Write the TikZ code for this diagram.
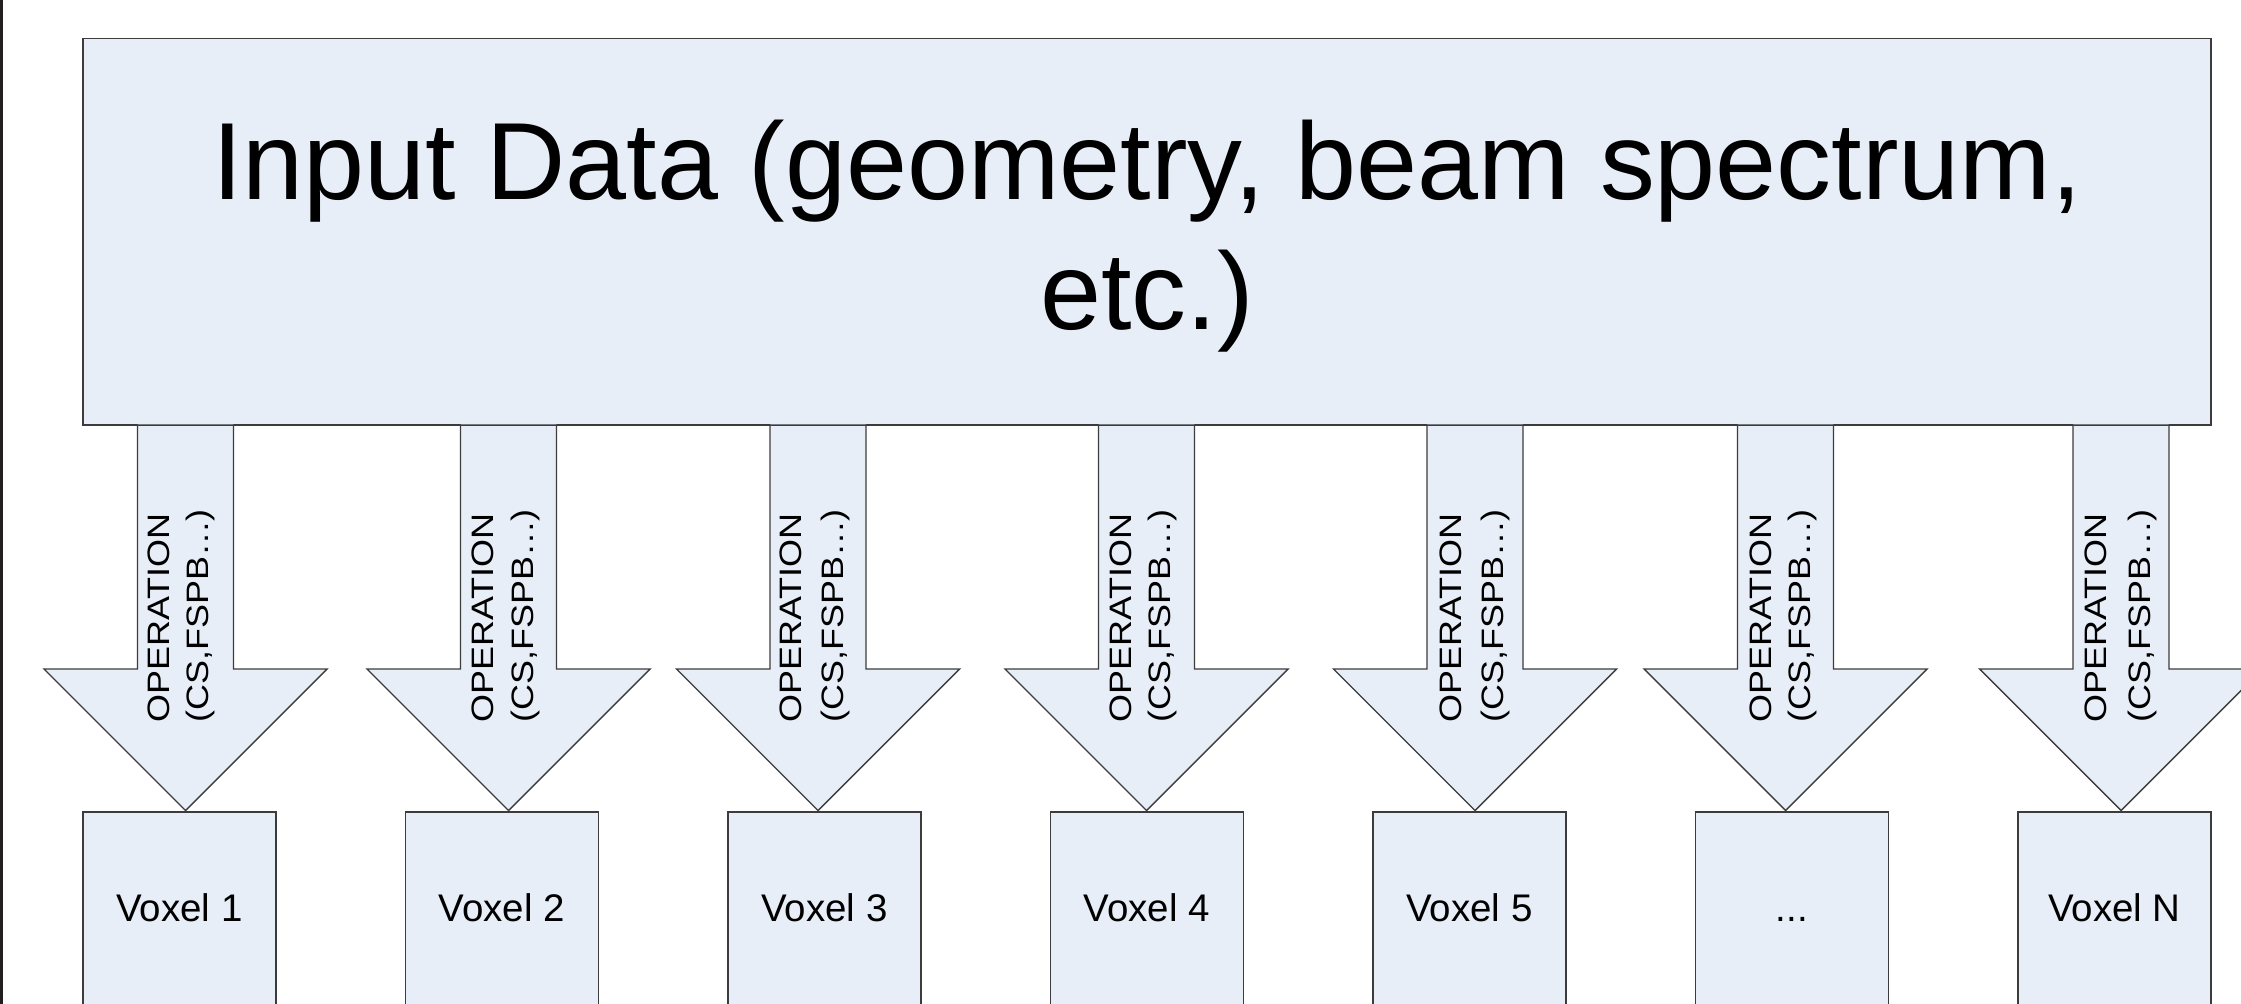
\documentclass[tikz,border=0pt]{standalone}
\usepackage{fontspec}
\setmainfont{Liberation Sans}
\definecolor{boxfill}{RGB}{232,238,247}
\definecolor{boxline}{RGB}{60,60,60}
\definecolor{sidebar}{RGB}{35,31,32}
\newcommand\mythreedots{...}
\begin{document}
\begin{tikzpicture}[x=1pt,y=-1pt,
  panel/.style={draw=boxline,fill=boxfill,line width=1.4pt,rectangle,inner sep=0pt},
  titletext/.style={font=\fontsize{109.7}{130}\selectfont,anchor=base,inner sep=0pt},
  voxtext/.style={font=\fontsize{38.5}{44}\selectfont,anchor=base,inner sep=0pt},
  optext/.style={font=\fontsize{31}{35}\selectfont,anchor=base west,rotate=90,inner sep=0pt},
  arrowshape/.style={fill=boxfill,draw=boxline,line width=1.4pt,line join=miter}]
\useasboundingbox (0,0) rectangle (2241,1004);
\clip (0,0) rectangle (2241,1004);
\fill[white] (0,0) rectangle (2241,1004);
\fill[sidebar] (0,0) rectangle (3.3,1004);
% main box
\node[panel,minimum width=2128pt,minimum height=386pt] (input) at (1147,231.5) {};
\node[titletext] (t1) at (1147,199.3) {Input Data (geometry, beam spectrum,};
\node[titletext] (t2) at (1147,329.3) {etc.)};
% voxel boxes
\foreach \i/\cx/\lab in {1/179.4/Voxel 1,2/501.9/Voxel 2,3/824.4/Voxel 3,4/1146.9/Voxel 4,5/1469.4/Voxel 5,6/1791.9/\mythreedots,7/2114.4/Voxel N}{
  \node[panel,minimum width=193pt,minimum height=260pt] (v\i) at (\cx,941.8) {};
  \node[voxtext] (vl\i) at (\cx,921.7) {\lab};
}
% arrows
\foreach \i/\ax/\da/\db in {1/185.5/-16/23,2/508.5/-15.2/25,3/818/-16.3/25.3,4/1146.5/-15.5/24,5/1475/-13.3/28.3,6/1785.5/-13.8/24.5,7/2121/-14.3/29}{
  \coordinate (top\i) at (\ax,424.5);
  \filldraw[arrowshape] ([xshift=-48pt]top\i) -- (\ax-48,669) -- (\ax-141.5,669) -- (\ax,810.5)
     -- (\ax+141.5,669) -- (\ax+48,669) -- ([xshift=48pt]top\i);
  \node[optext] (oa\i) at (\ax+\da,723) {\scalebox{1.16}[1]{OPERATION}};
  \node[optext] (ob\i) at (\ax+\db,723) {\scalebox{1.16}[1]{(CS,FSPB…)}};
}
\draw[boxline,line width=1.4pt] (input.south west) -- (input.south east);
\end{tikzpicture}
\end{document}
